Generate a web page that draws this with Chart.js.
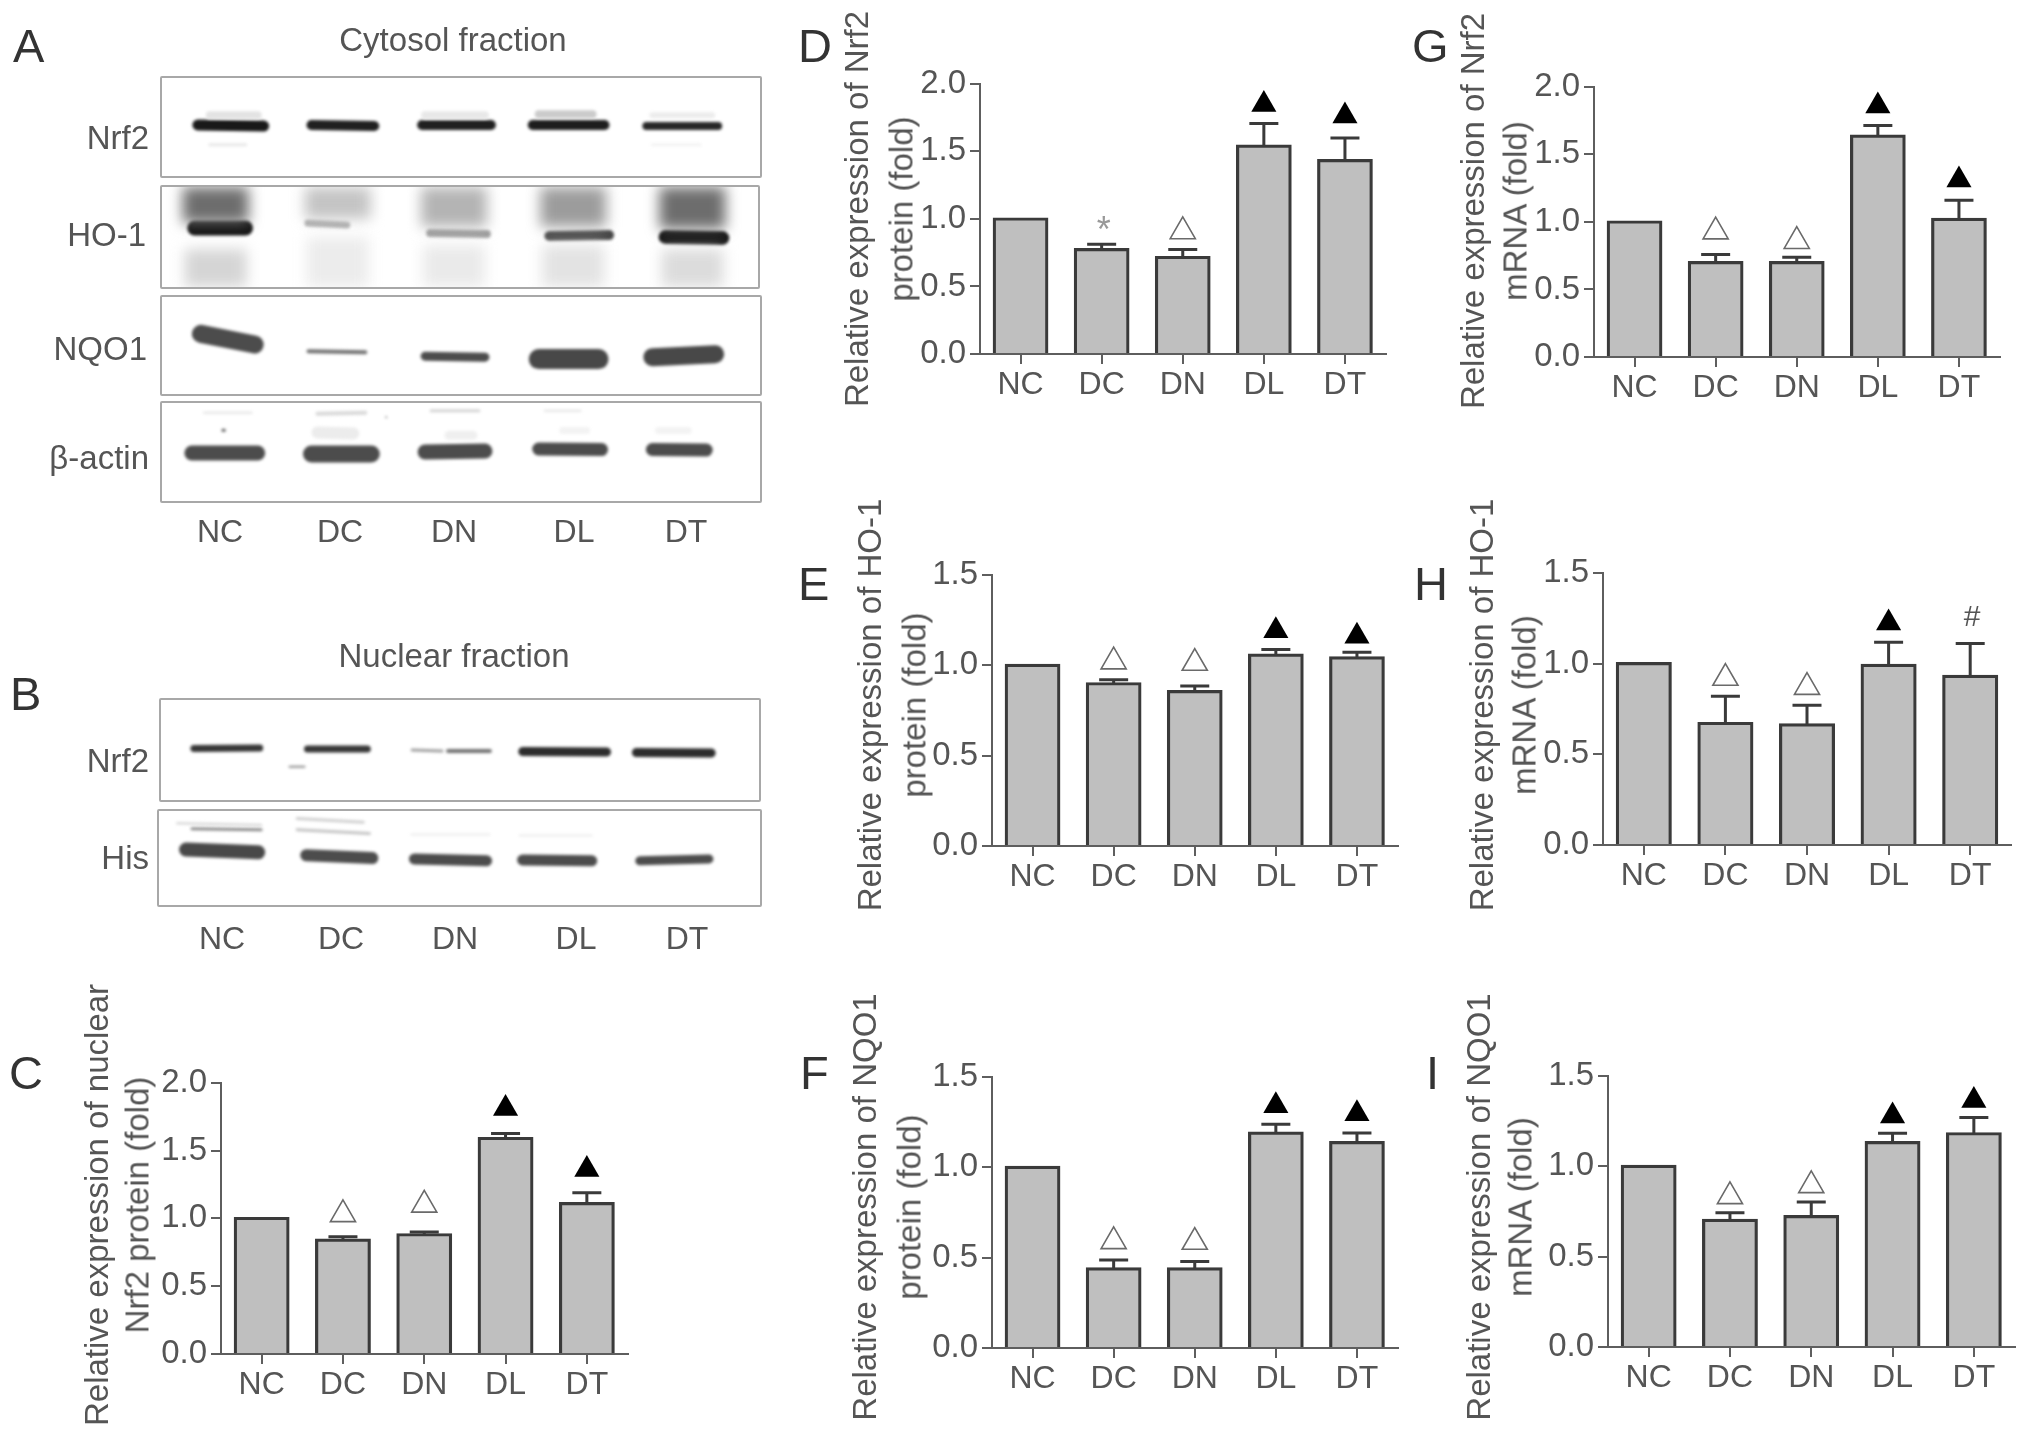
<!DOCTYPE html>
<html lang="en">
<head>
    <meta charset="UTF-8">
    <title>Nrf2 / HO-1 / NQO1 expression</title>
    <script src="https://cdn.jsdelivr.net/npm/chart.js"></script>
    <style>
        html, body {
            margin: 0;
            padding: 0;
            background: #fff;
        }
        #page {
            position: relative;
            width: 2032px;
            height: 1438px;
            overflow: hidden;
            filter: blur(0.7px);
            font-family: "Liberation Sans", Arial, sans-serif;
        }
        #page canvas {
            position: absolute;
        }
        .strip {
            position: absolute;
            border: 2px solid #a8a8a8;
            border-radius: 2px;
            box-sizing: border-box;
            overflow: hidden;
        }
        .label {
            position: absolute;
            white-space: nowrap;
            color: #555;
            line-height: 1;
        }
    </style>
</head>
<body>
    <div id="page"></div>

    <script>
        const groups = ['NC', 'DC', 'DN', 'DL', 'DT'];

        // Bar heights, upper error caps, marker heights and marker kinds
        const nuclearNrf2 = [1.0, 0.84, 0.88, 1.59, 1.11];
        const nuclearNrf2Err = [null, 0.865, 0.90, 1.627, 1.19];
        const nuclearNrf2Marks = [null, 1.03, 1.10, 1.81, 1.36];
        const nuclearNrf2Kinds = ['', 'open', 'open', 'filled', 'filled'];

        const proteinNrf2 = [1.0, 0.773, 0.715, 1.539, 1.432];
        const proteinNrf2Err = [null, 0.812, 0.773, 1.707, 1.598];
        const proteinNrf2Marks = [null, 0.94, 0.907, 1.846, 1.761];
        const proteinNrf2Kinds = ['', '*', 'open', 'filled', 'filled'];

        const proteinHo1 = [1.0, 0.898, 0.854, 1.056, 1.041];
        const proteinHo1Err = [null, 0.92, 0.885, 1.087, 1.072];
        const proteinHo1Marks = [null, 1.02, 1.012, 1.19, 1.16];
        const proteinHo1Kinds = ['', 'open', 'open', 'filled', 'filled'];

        const proteinNqo1 = [1.0, 0.438, 0.438, 1.189, 1.137];
        const proteinNqo1Err = [null, 0.487, 0.478, 1.238, 1.189];
        const proteinNqo1Marks = [null, 0.59, 0.586, 1.34, 1.295];
        const proteinNqo1Kinds = ['', 'open', 'open', 'filled', 'filled'];

        const mrnaNrf2 = [1.0, 0.70, 0.70, 1.635, 1.02];
        const mrnaNrf2Err = [null, 0.759, 0.739, 1.714, 1.16];
        const mrnaNrf2Marks = [null, 0.928, 0.857, 1.858, 1.31];
        const mrnaNrf2Kinds = ['', 'open', 'open', 'filled', 'filled'];

        const mrnaHo1 = [1.0, 0.67, 0.662, 0.99, 0.93];
        const mrnaHo1Err = [null, 0.82, 0.77, 1.117, 1.11];
        const mrnaHo1Marks = [null, 0.92, 0.87, 1.224, 1.25];
        const mrnaHo1Kinds = ['', 'open', 'open', 'filled', '#'];

        const mrnaNqo1 = [1.0, 0.701, 0.722, 1.131, 1.18];
        const mrnaNqo1Err = [null, 0.743, 0.802, 1.182, 1.27];
        const mrnaNqo1Marks = [null, 0.833, 0.894, 1.278, 1.364];
        const mrnaNqo1Kinds = ['', 'open', 'open', 'filled', 'filled'];

        // Blot bands in percent of the strip: x0, y0, x1, y1, thickness, density
        const cytoNrf2Bands = [
            [8, 38, 16, 38, 8, 0.12], [44, 38, 54, 38, 8, 0.1], [63, 37, 72, 37, 8, 0.22], [82, 38, 92, 38, 6, 0.08],
            [8, 68, 14, 68, 3, 0.1], [82, 68, 90, 68, 3, 0.05],
            [6, 48, 17, 49, 11, 0.98], [25, 48, 35.5, 49, 10, 0.95], [43.5, 48, 55, 48, 10, 0.95],
            [62, 48, 74, 48, 10, 0.96], [81, 49, 93, 49, 8, 0.92]
        ];
        const cytoHo1Bands = [
            [9, 0, 9, 36, 66, 0.62], [9, 62, 9, 100, 62, 0.18],
            [29.5, 0, 29.5, 32, 66, 0.25], [29.5, 50, 29.5, 100, 62, 0.08],
            [49, 0, 49, 40, 66, 0.32], [49, 58, 49, 100, 62, 0.09],
            [69, 0, 69, 40, 66, 0.42], [69, 58, 69, 100, 62, 0.12],
            [89, 0, 89, 42, 66, 0.62], [89, 62, 89, 100, 62, 0.15],
            [5.5, 41, 14, 41, 15, 1.0], [24.5, 36, 31, 38, 7, 0.35], [45, 46, 54.5, 47, 8, 0.42],
            [65, 49, 75, 48, 10, 0.8], [84.5, 50, 94, 51, 14, 1.0]
        ];
        const cytoNqo1Bands = [
            [6.5, 38, 15.5, 49, 18, 0.76], [24.5, 56, 34, 57, 4, 0.6], [44, 61, 54, 62, 9, 0.76],
            [63, 64, 73, 64, 20, 0.78], [82, 62, 92.5, 59, 18, 0.78]
        ];
        const cytoActinBands = [
            [7, 10, 15, 10, 2, 0.12], [26, 11, 34, 10, 4, 0.16], [45, 8, 53, 8, 3, 0.18], [64, 8, 70, 8, 2, 0.12],
            [26, 30, 32, 31, 12, 0.08], [48, 33, 52, 33, 9, 0.07], [67, 28, 71, 28, 7, 0.05], [83, 28, 88, 28, 7, 0.05],
            [10.2, 27.8, 10.4, 27.8, 3, 0.7], [37.5, 14.5, 37.6, 14.5, 2, 0.5],
            [5, 51, 16, 51, 15, 0.76], [25, 52, 35, 52, 17, 0.76], [44, 50, 54, 49, 15, 0.76],
            [63, 47, 73.5, 47.5, 13, 0.76], [82, 47.5, 91, 48, 13, 0.76]
        ];
        const nuclearNrf2Bands = [
            [5.5, 48.5, 16.5, 48, 7, 0.85], [24.5, 49, 34.5, 49, 7, 0.85], [42, 50, 47, 51, 3, 0.4], [48, 51, 55, 51, 4, 0.6],
            [60.5, 51.5, 74.5, 52, 9, 0.9], [79.5, 52.5, 92, 53, 9, 0.9], [21.5, 66.7, 24, 66.7, 2, 0.5]
        ];
        const hisBands = [
            [3, 13, 17, 15, 2, 0.2], [5.5, 19, 17, 20, 3, 0.5], [23, 8, 34, 12, 3, 0.2], [23, 20, 35, 24, 3, 0.25],
            [42, 25, 55, 25, 2, 0.08], [60, 26, 72, 26, 2, 0.08],
            [4.5, 41, 16.5, 44, 14, 0.78], [24.5, 47, 35.5, 50, 12, 0.76], [42.5, 51, 54.5, 53, 11, 0.76],
            [60.5, 52, 72, 53, 11, 0.76], [80, 53, 91.5, 51, 9, 0.76]
        ];

        const inkColor = '#3a3a3a';
        const axisColor = '#5e5e5e';
        const textColor = '#555';

        const page = document.getElementById('page');

        function addText(text, x, y, size, opts = {}) {
            const el = document.createElement('div');
            el.className = 'label';
            el.textContent = text;
            el.style.fontSize = size + 'px';
            el.style.left = x + 'px';
            el.style.top = y + 'px';
            el.style.color = opts.color || textColor;
            const shiftX = opts.align === 'right' ? '-100%' : opts.align === 'left' ? '0' : '-50%';
            el.style.transform = `translate(${shiftX}, -50%)` + (opts.rotate ? ` rotate(${opts.rotate}deg)` : '');
            page.appendChild(el);
        }

        // Error bars and text markers are not built in, so draw them off the scales
        const errorBarPlugin = {
            id: 'errorBars',
            afterDatasetsDraw(chart, args, opts) {
                const { ctx, scales: { x, y } } = chart;
                ctx.save();
                ctx.strokeStyle = inkColor;
                ctx.lineWidth = 3;
                opts.tops.forEach((top, i) => {
                    if (top === null) return;
                    const px = x.getPixelForValue(i);
                    ctx.beginPath();
                    ctx.moveTo(px, y.getPixelForValue(opts.values[i]));
                    ctx.lineTo(px, y.getPixelForValue(top));
                    ctx.moveTo(px - 14.5, y.getPixelForValue(top));
                    ctx.lineTo(px + 14.5, y.getPixelForValue(top));
                    ctx.stroke();
                });
                ctx.textAlign = 'center';
                ctx.textBaseline = 'middle';
                opts.kinds.forEach((kind, i) => {
                    if (kind !== '*' && kind !== '#') return;
                    ctx.fillStyle = kind === '*' ? '#999' : textColor;
                    ctx.font = (kind === '*' ? 36 : 30) + 'px "Liberation Sans"';
                    ctx.fillText(kind, x.getPixelForValue(i) + 2, y.getPixelForValue(opts.marks[i]) + (kind === '*' ? 5 : 0));
                });
                ctx.restore();
            }
        };

        function makeBarPanel(p) {
            const leftRoom = 70, topRoom = 22, bottomRoom = 62, rightRoom = 12;
            const plotHeight = p.yZero - p.yTop;
            const canvas = document.createElement('canvas');
            canvas.width = leftRoom + p.band * 5 + rightRoom;
            canvas.height = topRoom + plotHeight + bottomRoom;
            canvas.style.left = (p.axisX - leftRoom) + 'px';
            canvas.style.top = (p.yTop - topRoom) + 'px';
            page.appendChild(canvas);

            new Chart(canvas, {
                type: 'bar',
                data: {
                    labels: groups,
                    datasets: [
                        {
                            type: 'line',
                            data: p.marks,
                            showLine: false,
                            order: 0,
                            pointStyle: 'triangle',
                            pointRadius: p.kinds.map(k => (k === 'open' || k === 'filled') ? 14.5 : 0),
                            pointBorderWidth: p.kinds.map(k => k === 'open' ? 1.6 : 0),
                            pointBorderColor: '#6a6a6a',
                            pointBackgroundColor: p.kinds.map(k => k === 'filled' ? '#000' : '#fff')
                        },
                        {
                            data: p.values,
                            order: 1,
                            backgroundColor: '#bfbfbf',
                            borderColor: inkColor,
                            borderWidth: 3.2,
                            borderSkipped: 'bottom',
                            inflateAmount: 1.5,
                            categoryPercentage: 1,
                            barPercentage: 0.65
                        }
                    ]
                },
                options: {
                    responsive: false,
                    animation: false,
                    devicePixelRatio: 1,
                    layout: { padding: { top: topRoom, right: rightRoom, left: 0, bottom: 0 } },
                    plugins: {
                        legend: { display: false },
                        tooltip: { enabled: false },
                        errorBars: { tops: p.err, values: p.values, kinds: p.kinds, marks: p.marks }
                    },
                    scales: {
                        x: {
                            afterFit(scale) { scale.height = bottomRoom; },
                            grid: { offset: false, drawOnChartArea: false, tickLength: 10, color: axisColor, lineWidth: 2 },
                            border: { color: axisColor, width: 2 },
                            ticks: { color: textColor, font: { size: 32, family: 'Liberation Sans' }, padding: 2, maxRotation: 0, autoSkip: false }
                        },
                        y: {
                            min: 0,
                            max: p.yMax,
                            afterFit(scale) { scale.width = leftRoom; },
                            grid: { drawOnChartArea: false, tickLength: 10, color: axisColor, lineWidth: 2 },
                            border: { color: axisColor, width: 2 },
                            ticks: {
                                stepSize: 0.5,
                                color: textColor,
                                font: { size: 33, family: 'Liberation Sans' },
                                padding: 4,
                                callback: v => v.toFixed(1)
                            }
                        }
                    }
                },
                plugins: [errorBarPlugin]
            });

            addText(p.title[0], p.titleX[0], p.titleY, 33, { rotate: -90 });
            addText(p.title[1], p.titleX[1], p.titleY, 33, { rotate: -90 });
        }

        // Bands are blurred to look like film; wide lane smears get a softer blur
        const blotBlurPlugin = {
            id: 'blotBlur',
            beforeDatasetDraw(chart, args) {
                const wide = chart.data.datasets[args.index].borderWidth > 30;
                chart.ctx.save();
                chart.ctx.filter = wide ? 'blur(7px)' : 'blur(1.8px)';
            },
            afterDatasetDraw(chart) {
                chart.ctx.restore();
            }
        };

        function makeStrip(s) {
            const box = document.createElement('div');
            box.className = 'strip';
            box.style.left = s.x + 'px';
            box.style.top = s.y + 'px';
            box.style.width = s.w + 'px';
            box.style.height = s.h + 'px';
            page.appendChild(box);

            const canvas = document.createElement('canvas');
            canvas.width = s.w - 4;
            canvas.height = s.h - 4;
            box.appendChild(canvas);

            new Chart(canvas, {
                type: 'line',
                data: {
                    datasets: s.bands.map(b => {
                        const shade = Math.round(255 - 235 * b[5]);
                        return {
                            data: [{ x: b[0], y: b[1] }, { x: b[2], y: b[3] }],
                            borderColor: `rgb(${shade},${shade},${shade})`,
                            borderWidth: b[4],
                            borderCapStyle: b[4] > 30 ? 'butt' : 'round',
                            pointRadius: 0,
                            clip: false
                        };
                    })
                },
                options: {
                    responsive: false,
                    animation: false,
                    devicePixelRatio: 1,
                    layout: { padding: 0 },
                    plugins: { legend: { display: false }, tooltip: { enabled: false } },
                    scales: {
                        x: { type: 'linear', min: 0, max: 100, display: false },
                        y: { min: 0, max: 100, reverse: true, display: false }
                    }
                },
                plugins: [blotBlurPlugin]
            });
        }

        makeStrip({ x: 160, y: 76, w: 602, h: 102, bands: cytoNrf2Bands });
        makeStrip({ x: 160, y: 185, w: 600, h: 104, bands: cytoHo1Bands });
        makeStrip({ x: 160, y: 295, w: 602, h: 101, bands: cytoNqo1Bands });
        makeStrip({ x: 160, y: 401, w: 602, h: 102, bands: cytoActinBands });
        makeStrip({ x: 159, y: 698, w: 602, h: 104, bands: nuclearNrf2Bands });
        makeStrip({ x: 157, y: 809, w: 605, h: 98, bands: hisBands });

        addText('Cytosol fraction', 453, 39, 33);
        addText('Nuclear fraction', 454, 655, 33);

        [['Nrf2', 149, 137], ['HO-1', 146, 234], ['NQO1', 147, 348], ['β-actin', 149, 457],
         ['Nrf2', 149, 760], ['His', 149, 857]].forEach(l => {
            addText(l[0], l[1], l[2], 33, { align: 'right' });
        });

        const laneXa = [220, 340, 454, 574, 686];
        const laneXb = [222, 341, 455, 576, 687];
        groups.forEach((g, i) => {
            addText(g, laneXa[i], 531, 32);
            addText(g, laneXb[i], 938, 32);
        });

        [['A', 13, 45], ['B', 10, 693], ['C', 9, 1072], ['D', 798, 45], ['E', 798, 583],
         ['F', 800, 1072], ['G', 1412, 45], ['H', 1414, 583], ['I', 1426, 1072]].forEach(l => {
            addText(l[0], l[1], l[2], 47, { align: 'left', color: '#333' });
        });

        makeBarPanel({ axisX: 221, yTop: 1081, yZero: 1354, band: 81.8, yMax: 2,
            values: nuclearNrf2, err: nuclearNrf2Err, marks: nuclearNrf2Marks, kinds: nuclearNrf2Kinds,
            title: ['Relative expression of nuclear', 'Nrf2 protein (fold)'], titleX: [96, 137], titleY: 1205 });
        makeBarPanel({ axisX: 980, yTop: 82, yZero: 354, band: 81.7, yMax: 2,
            values: proteinNrf2, err: proteinNrf2Err, marks: proteinNrf2Marks, kinds: proteinNrf2Kinds,
            title: ['Relative expression of Nrf2', 'protein (fold)'], titleX: [856, 901], titleY: 209 });
        makeBarPanel({ axisX: 992, yTop: 573, yZero: 846, band: 81.6, yMax: 1.5,
            values: proteinHo1, err: proteinHo1Err, marks: proteinHo1Marks, kinds: proteinHo1Kinds,
            title: ['Relative expression of HO-1', 'protein (fold)'], titleX: [869, 914], titleY: 705 });
        makeBarPanel({ axisX: 992, yTop: 1075, yZero: 1348, band: 81.7, yMax: 1.5,
            values: proteinNqo1, err: proteinNqo1Err, marks: proteinNqo1Marks, kinds: proteinNqo1Kinds,
            title: ['Relative expression of NQO1', 'protein (fold)'], titleX: [864, 909], titleY: 1207 });
        makeBarPanel({ axisX: 1594, yTop: 85, yZero: 357, band: 81.7, yMax: 2,
            values: mrnaNrf2, err: mrnaNrf2Err, marks: mrnaNrf2Marks, kinds: mrnaNrf2Kinds,
            title: ['Relative expression of Nrf2', 'mRNA (fold)'], titleX: [1472, 1515], titleY: 211 });
        makeBarPanel({ axisX: 1603, yTop: 571, yZero: 845, band: 81.6, yMax: 1.5,
            values: mrnaHo1, err: mrnaHo1Err, marks: mrnaHo1Marks, kinds: mrnaHo1Kinds,
            title: ['Relative expression of HO-1', 'mRNA (fold)'], titleX: [1481, 1524], titleY: 705 });
        makeBarPanel({ axisX: 1608, yTop: 1074, yZero: 1347, band: 81.8, yMax: 1.5,
            values: mrnaNqo1, err: mrnaNqo1Err, marks: mrnaNqo1Marks, kinds: mrnaNqo1Kinds,
            title: ['Relative expression of NQO1', 'mRNA (fold)'], titleX: [1478, 1520], titleY: 1207 });
    </script>
</body>
</html>
